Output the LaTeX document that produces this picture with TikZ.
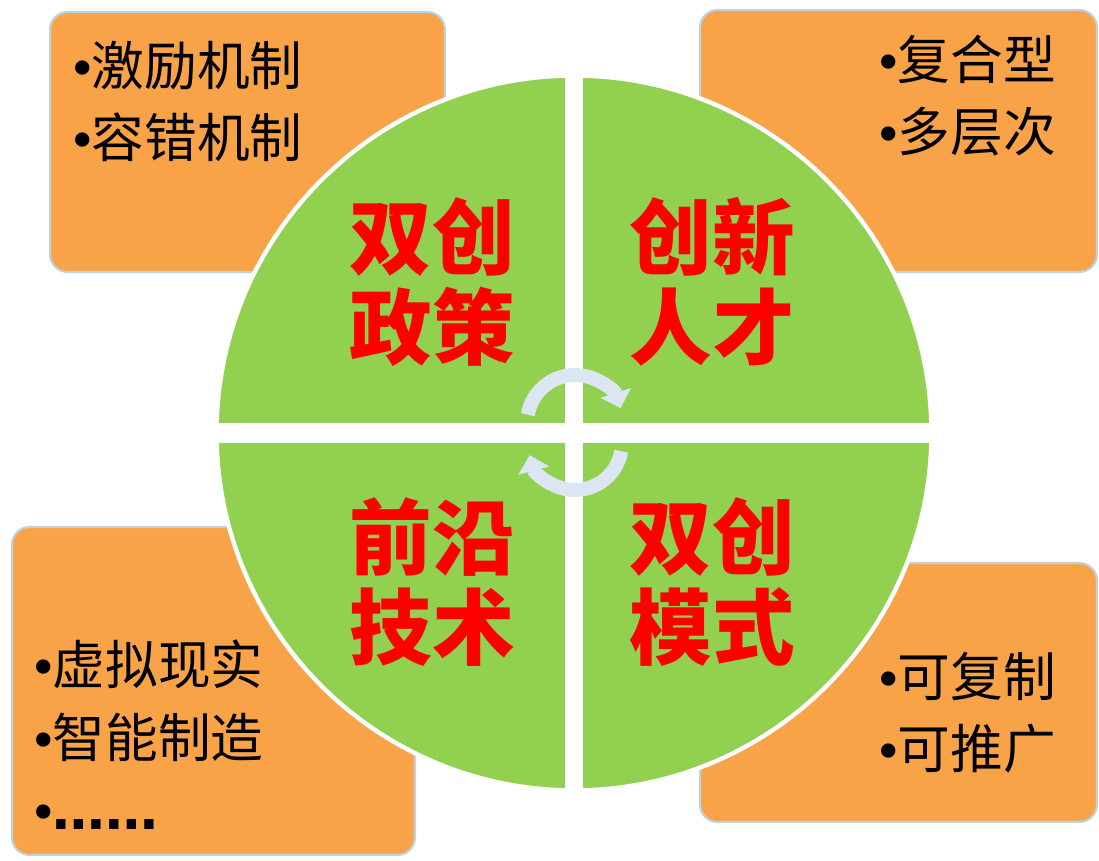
\documentclass[tikz,border=0pt]{standalone}
\usepackage{fontspec}
\usetikzlibrary{positioning,arrows.meta}
\newfontfamily\cjk{Noto Sans CJK SC}
\newfontfamily\dotsfont{DejaVu Sans}
\newfontfamily\dotfont{Liberation Serif}
\newcommand{\bul}{{\dotfont\bfseries •}}
\definecolor{boxorange}{HTML}{F9A348}
\definecolor{hubgreen}{HTML}{92D050}
\definecolor{boxrim}{HTML}{BCD3DF}
\definecolor{cyclecol}{HTML}{DCE6F2}
\tikzset{
  infobox/.style={draw=boxrim, line width=1.2pt, fill=boxorange, rounded corners=10pt, inner sep=0pt},
  listtext/.style={font=\cjk\fontsize{30pt}{41pt}\selectfont, align=left, inner sep=0pt},
  quadtext/.style={font=\cjk\bfseries\fontsize{47pt}{51pt}\selectfont, text=red, align=center, inner sep=0pt},
  cyclearrow/.style={cyclecol, line width=0.28cm, -{Triangle[width=0.62cm,length=0.32cm]}},
}
\begin{document}
\begin{tikzpicture}[x=0.02cm, y=0.02cm]
    \useasboundingbox (0,0) rectangle (1099,-861);
    %% side boxes
    \node[infobox, minimum width=7.9cm, minimum height=5.2cm] (policybox) at (247.5,-142) {};
    \node[infobox, minimum width=7.94cm, minimum height=5.24cm] (talentbox) at (898.5,-141) {};
    \node[infobox, minimum width=8.06cm, minimum height=6.56cm] (techbox) at (213.5,-691) {};
    \node[infobox, minimum width=7.94cm, minimum height=5.18cm] (modebox) at (898.5,-692.5) {};
    %% central disc and the white cross
    \node[circle, fill=hubgreen, draw=white, line width=2.5pt, minimum size=14.3cm, inner sep=0pt] (hub) at (574,-433) {};
    \draw[white, line width=0.36cm] (hub.north) -- (hub.south);
    \draw[white, line width=0.4cm] (hub.west) -- (hub.east);
    %% cycle arrows
    \draw[cyclearrow] (575,-423) ++(170:0.96cm) arc[start angle=170, end angle=18, radius=0.96cm];
    \draw[cyclearrow] (575,-443) ++(-10:0.94cm) arc[start angle=-10, end angle=-165, radius=0.94cm];
    %% quadrant titles
    \node[quadtext] (policy) at (432,-282) {双创\\政策};
    \node[quadtext] (talent) at (712,-282) {创新\\人才};
    \node[quadtext] (tech) at (432,-582) {前沿\\技术};
    \node[quadtext] (mode) at (712,-582) {双创\\模式};
    %% bullet lists
    \node[listtext, anchor=north west] (policylist) at (73,-41) {\bul 激励机制\\\bul 容错机制};
    \node[listtext, anchor=north west] (talentlist) at (879,-35) {\bul 复合型\\\bul 多层次};
    \node[listtext, anchor=north west] (techlist) at (34,-640) {\bul 虚拟现实\\\bul 智能制造\\\bul{\dotsfont\bfseries ……}};
    \node[listtext, anchor=north west] (modelist) at (879,-652) {\bul 可复制\\\bul 可推广};
\end{tikzpicture}
\end{document}
